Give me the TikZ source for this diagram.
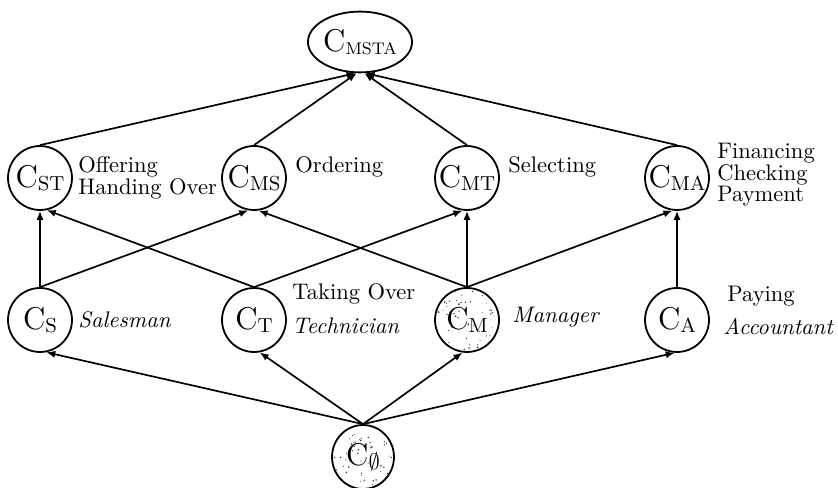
\documentclass[tikz,border=0pt]{standalone}
\usetikzlibrary{arrows.meta,shapes.geometric}
\newcommand\Cnode[2][9]{{\fontsize{14}{14}\selectfont C}\raisebox{-1.6pt}{\fontsize{#1}{#1}\selectfont #2}}
\tikzset{
  cnode/.style={circle, draw, line width=0.8pt, minimum size=28.4pt, inner sep=0pt},
  enode/.style={ellipse, draw, line width=0.8pt, inner sep=0pt},
  lab/.style={anchor=base west, inner sep=0pt, font=\fontsize{10}{12}\selectfont},
  arr/.style={-{Latex[length=4pt,width=3.2pt]}, line width=0.75pt},
  speckled/.style={path picture={
      \pgfmathsetseed{#1}
      \foreach \k in {1,...,55}{
        \pgfmathsetmacro{\rr}{0.18+0.25*rnd}
        \fill[black!80] ([shift={(rand*13pt,rand*13pt)}]path picture bounding box.center) circle (\rr pt);
      }}},
}
\begin{document}
\begin{tikzpicture}[x=0.444pt,y=-0.444pt]
\useasboundingbox (0,0) rectangle (838,488);
% top
\node[enode, minimum width=34pt, minimum height=27pt] (MSTA) at (360,42) {\Cnode[7.5]{MSTA}};
% middle row
\node[cnode] (ST) at (40,178) {\Cnode{ST}};
\node[cnode] (MS) at (254,178) {\Cnode{MS}};
\node[cnode] (MT) at (467,178) {\Cnode{MT}};
\node[cnode] (MA) at (677,178) {\Cnode{MA}};
% bottom row
\node[cnode] (S) at (40,320) {\Cnode{S}};
\node[cnode] (T) at (254,320) {\Cnode{T}};
\node[cnode, speckled=11] (M) at (467,320) {\Cnode{M}};
\node[cnode] (A) at (677,320) {\Cnode{A}};
% empty
\node[enode, speckled=5, minimum width=27.5pt, minimum height=28.4pt] (E) at (363,457) {\Cnode[10]{$\emptyset$}};
% labels
\node[lab] (l1) at (78,173) {Offering};
\node[lab] (l2) at (78,195) {Handing Over};
\node[lab] (l3) at (295,173) {Ordering};
\node[lab] (l4) at (508,173) {Selecting};
\node[lab] (l5) at (717,159) {Financing};
\node[lab] (l6) at (717,181) {Checking};
\node[lab] (l7) at (717,202) {Payment};
\node[lab] (l8) at (78,327) {\itshape Salesman};
\node[lab] (l9) at (292,300) {Taking Over};
\node[lab] (l10) at (292,333) {\itshape Technician};
\node[lab] (l11) at (512,323) {\itshape Manager};
\node[lab] (l12) at (727,302) {Paying};
\node[lab] (l13) at (723,335) {\itshape Accountant};
% edges bottom
\draw[arr] (E.north) -- (S.281);
\draw[arr] (E.north) -- (T.280);
\draw[arr] (E.north) -- (M.262);
\draw[arr] (E.north) -- (A.266);
% edges middle
\draw[arr] (S.north) -- (ST.south);
\draw[arr] (S.north) -- (MS.260);
\draw[arr] (T.north) -- (ST.282);
\draw[arr] (T.north) -- (MT.262);
\draw[arr] (M.north) -- (MS.278);
\draw[arr] (M.north) -- (MT.south);
\draw[arr] (M.north) -- (MA.262);
\draw[arr] (A.north) -- (MA.south);
% edges top
\draw[arr] (ST.north) -- (MSTA.262);
\draw[arr] (MS.north) -- (MSTA.264);
\draw[arr] (MT.north) -- (MSTA.278);
\draw[arr] (MA.north) -- (MSTA.280);
\end{tikzpicture}
\end{document}
